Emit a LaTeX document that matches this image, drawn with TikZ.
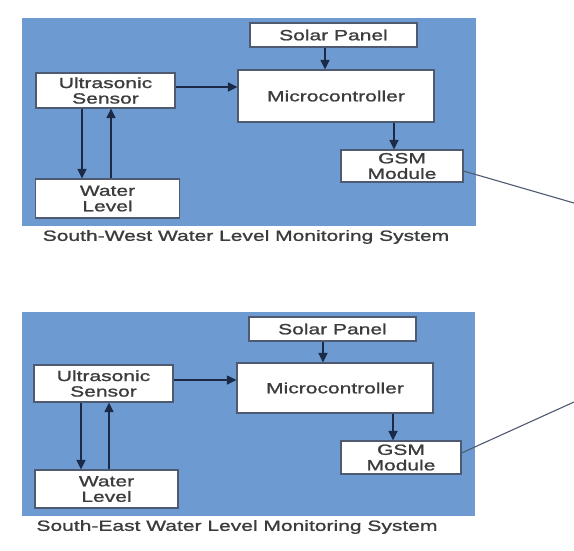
\documentclass[tikz,border=0pt]{standalone}
\usepackage{fontspec}
\setmainfont{Liberation Sans}[FakeStretch=1.42,FakeBold=1.2]
\usetikzlibrary{arrows.meta}
\definecolor{panelblue}{HTML}{6D9BD1}
\definecolor{boxedge}{HTML}{4E5A70}
\definecolor{arrowc}{HTML}{1C2A48}
\definecolor{txt}{HTML}{3C3C3C}
\begin{document}
\begin{tikzpicture}[x=1pt,y=-1pt,
  panel/.style={fill=panelblue,draw=none},
  blk/.style={draw=boxedge,line width=1.1pt,fill=white,inner sep=0pt,align=center,
    text=txt,font=\fontsize{14.8}{15.5}\selectfont},
  conn/.style={draw=arrowc,line width=1.6pt,-{Triangle[length=9.5pt,width=9pt]}},
  thinarrow/.style={draw=arrowc,line width=1.1pt,-{Triangle[length=9.5pt,width=9pt]}},
  link/.style={draw=boxedge,line width=1.1pt},
  captext/.style={text=txt,inner sep=0pt,font=\fontsize{14.8}{15.5}\selectfont}]
\useasboundingbox[fill=white] (0,0) rectangle (574,550);
% ---------- top panel ----------
\path[panel] (22,18) rectangle (476,226);
\node[blk,minimum width=167pt,minimum height=24pt] (sp1) at (333.5,35) {Solar Panel};
\node[blk,minimum width=196pt,minimum height=52pt] (mc1) at (336,96) {Microcontroller};
\node[blk,minimum width=139pt,minimum height=35pt] (us1) at (105.5,90.5) {Ultrasonic\\Sensor};
\node[blk,minimum width=144pt,minimum height=39pt] (wl1) at (107.5,198.5) {Water\\Level};
\node[blk,minimum width=122pt,minimum height=32pt] (gsm1) at (402,166) {GSM\\Module};
\node[captext] (c1) at (246,237) {South-West Water Level Monitoring System};
\coordinate (e1) at (574,203);
\draw[conn] ([xshift=-8.5pt]sp1.south) -- ([xshift=-8.5pt]sp1.south |- mc1.north);
\draw[thinarrow] ([yshift=3.5pt]us1.east) -- ([yshift=3.5pt]us1.east -| mc1.west);
\draw[conn] ([xshift=58pt]mc1.south) -- ([xshift=58pt]mc1.south |- gsm1.north);
\draw[conn] ([xshift=-23.5pt]us1.south) -- ([xshift=-23.5pt]us1.south |- wl1.north);
\draw[conn] ([xshift=3.5pt]wl1.north) -- ([xshift=3.5pt]wl1.north |- us1.south);
\draw[link] ([yshift=-5pt]gsm1.east) -- (e1);
% ---------- bottom panel ----------
\path[panel] (22,312) rectangle (475,516);
\node[blk,minimum width=167pt,minimum height=24pt] (sp2) at (332.5,329) {Solar Panel};
\node[blk,minimum width=196pt,minimum height=50pt] (mc2) at (335,388) {Microcontroller};
\node[blk,minimum width=139pt,minimum height=37pt] (us2) at (103.5,383.5) {Ultrasonic\\Sensor};
\node[blk,minimum width=143pt,minimum height=38pt] (wl2) at (106.5,489) {Water\\Level};
\node[blk,minimum width=120pt,minimum height=33pt] (gsm2) at (401,457.5) {GSM\\Module};
\node[captext] (c2) at (237,527) {South-East Water Level Monitoring System};
\coordinate (e2) at (574,402);
\draw[conn] ([xshift=-9.5pt]sp2.south) -- ([xshift=-9.5pt]sp2.south |- mc2.north);
\draw[thinarrow] ([yshift=3.5pt]us2.east) -- ([yshift=3.5pt]us2.east -| mc2.west);
\draw[conn] ([xshift=58pt]mc2.south) -- ([xshift=58pt]mc2.south |- gsm2.north);
\draw[conn] ([xshift=-22.5pt]us2.south) -- ([xshift=-22.5pt]us2.south |- wl2.north);
\draw[conn] ([xshift=2.5pt]wl2.north) -- ([xshift=2.5pt]wl2.north |- us2.south);
\draw[link] ([yshift=4.5pt]gsm2.east) -- (e2);
\end{tikzpicture}
\end{document}
